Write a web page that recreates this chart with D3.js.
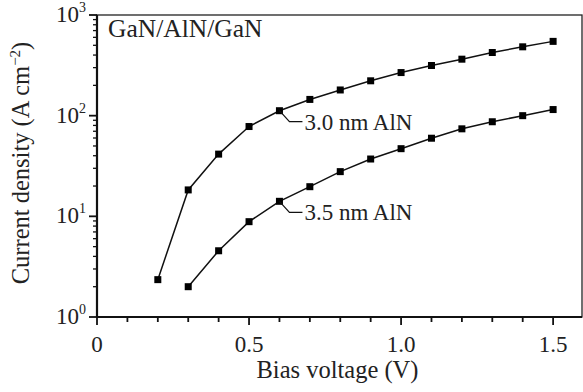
<!DOCTYPE html>
<html>
<head>
<meta charset="utf-8">
<script src="https://cdn.jsdelivr.net/npm/d3@7"></script>
<style>
  body { margin: 0; background: #fff; font-family: "Liberation Serif"; }
  svg text { font-family: "Liberation Serif"; }
</style>
</head>
<body>
<div id="chart"></div>
<script>
// data
const biasA = [0.2, 0.3, 0.4, 0.5, 0.6, 0.7, 0.8, 0.9, 1.0, 1.1, 1.2, 1.3, 1.4, 1.5];
const currA = [2.35, 18.3, 41.5, 78, 112, 145, 180, 222, 268, 315, 364, 424, 483, 547];
const biasB = [0.3, 0.4, 0.5, 0.6, 0.7, 0.8, 0.9, 1.0, 1.1, 1.2, 1.3, 1.4, 1.5];
const currB = [2.0, 4.55, 8.85, 14.1, 19.7, 27.8, 37.1, 47, 59.7, 74, 87, 100, 115];
const seriesLabels = ["3.0 nm AlN", "3.5 nm AlN"];
const xTicks = [0, 0.5, 1.0, 1.5];
const xTickLabels = ["0", "0.5", "1.0", "1.5"];
const yExponents = [0, 1, 2, 3];

const width = 583, height = 392;
const margin = {left: 97, right: 1, top: 15, bottom: 75};
const FONT = "Liberation Serif";

const svg = d3.select("#chart").append("svg")
    .attr("width", width)
    .attr("height", height)
    .attr("font-family", FONT);

const x = d3.scaleLinear()
    .domain([0, 1.595])
    .range([margin.left, width - margin.right]);

const y = d3.scaleLog()
    .domain([1, 1000])
    .range([height - margin.bottom, margin.top]);

const x0 = x.range()[0], x1 = x.range()[1];
const y0 = y.range()[0], y1 = y.range()[1];

// helper so every label gets the same serif face
function label(sel, size) {
    return sel
        .attr("font-family", FONT)
        .attr("font-size", size)
        .style("font-family", `"${FONT}"`)
        .style("font-size", size + "px")
        .attr("fill", "#222");
}

// frame
svg.append("rect")
    .attr("x", x0).attr("y", y1)
    .attr("width", x1 - x0).attr("height", y0 - y1)
    .attr("fill", "none")
    .attr("stroke", "#222")
    .attr("stroke-width", 1.3);

// x ticks
const xMinor = d3.range(0, 16).map(i => i / 10);
svg.append("g").selectAll("line")
    .data(xMinor)
    .join("line")
    .attr("x1", d => x(d)).attr("x2", d => x(d))
    .attr("y1", y0)
    .attr("y2", (d, i) => y0 + (i % 5 === 0 ? 8 : 5))
    .attr("stroke", "#111").attr("stroke-width", 1.8);

svg.append("g").selectAll("text")
    .data(xTicks)
    .join("text")
    .attr("x", d => x(d))
    .attr("y", y0 + 35)
    .attr("text-anchor", "middle")
    .call(label, 23)
    .text((d, i) => xTickLabels[i]);

// y ticks (log)
const yMinor = [];
for (let e = 0; e < 3; e++) {
    for (let m = 2; m <= 9; m++) yMinor.push(m * Math.pow(10, e));
}
svg.append("g").selectAll("line")
    .data(yMinor)
    .join("line")
    .attr("x1", x0).attr("x2", x0 - 4)
    .attr("y1", d => y(d)).attr("y2", d => y(d))
    .attr("stroke", "#111").attr("stroke-width", 1.3);

svg.append("g").selectAll("line")
    .data(yExponents)
    .join("line")
    .attr("x1", x0).attr("x2", x0 - 8)
    .attr("y1", d => y(Math.pow(10, d))).attr("y2", d => y(Math.pow(10, d)))
    .attr("stroke", "#111").attr("stroke-width", 1.8);

const yLab = svg.append("g").selectAll("text")
    .data(yExponents)
    .join("text")
    .attr("x", x0 - 11)
    .attr("y", d => y(Math.pow(10, d)) + 7)
    .attr("text-anchor", "end")
    .call(label, 23);
yLab.append("tspan").text("10");
yLab.append("tspan")
    .attr("dy", -10)
    .style("font-size", "14px")
    .text(d => d);

// axis lines (left and bottom heavier)
svg.append("line")
    .attr("x1", x0).attr("x2", x0).attr("y1", y1).attr("y2", y0)
    .attr("stroke", "#111").attr("stroke-width", 2.2);
svg.append("line")
    .attr("x1", x0).attr("x2", x1).attr("y1", y0).attr("y2", y0)
    .attr("stroke", "#111").attr("stroke-width", 2.2);

// axis titles
svg.append("text")
    .attr("x", (x0 + x1) / 2 - 2)
    .attr("y", y0 + 61)
    .attr("text-anchor", "middle")
    .call(label, 24.5)
    .text("Bias voltage (V)");

const yTitle = svg.append("text")
    .attr("transform", `translate(29,163) rotate(-90)`)
    .attr("text-anchor", "middle")
    .call(label, 24.5);
yTitle.append("tspan").text("Current density (A cm");
yTitle.append("tspan").attr("dy", -9).style("font-size", "15px").text("\u22122");
yTitle.append("tspan").attr("dy", 9).text(")");

// series
const seriesData = [
    biasA.map((v, i) => ({v, j: currA[i]})),
    biasB.map((v, i) => ({v, j: currB[i]}))
];

const line = d3.line()
    .x(d => x(d.v))
    .y(d => y(d.j));

seriesData.forEach((s, k) => {
    svg.append("path")
        .datum(s)
        .attr("d", line)
        .attr("fill", "none")
        .attr("stroke", "#111")
        .attr("stroke-width", 1.5);

    svg.append("g").selectAll("rect")
        .data(s)
        .join("rect")
        .attr("x", d => x(d.v) - 3.5)
        .attr("y", d => y(d.j) - 3.5)
        .attr("width", 7).attr("height", 7)
        .attr("fill", "#000");

    // callout at the 0.6 V point
    const p = s.find(d => Math.abs(d.v - 0.6) < 1e-9);
    const px = x(p.v), py = y(p.j);
    svg.append("path")
        .attr("d", `M${px},${py} L${px + 10},${py + 11} L${px + 23},${py + 11}`)
        .attr("fill", "none")
        .attr("stroke", "#111")
        .attr("stroke-width", 1.2);
    svg.append("text")
        .attr("x", px + 25)
        .attr("y", py + 19)
        .call(label, 23)
        .text(seriesLabels[k]);
});

// sample label
svg.append("text")
    .attr("x", x0 + 11)
    .attr("y", y1 + 22)
    .call(label, 25.5)
    .text("GaN/AlN/GaN");
</script>
</body>
</html>
